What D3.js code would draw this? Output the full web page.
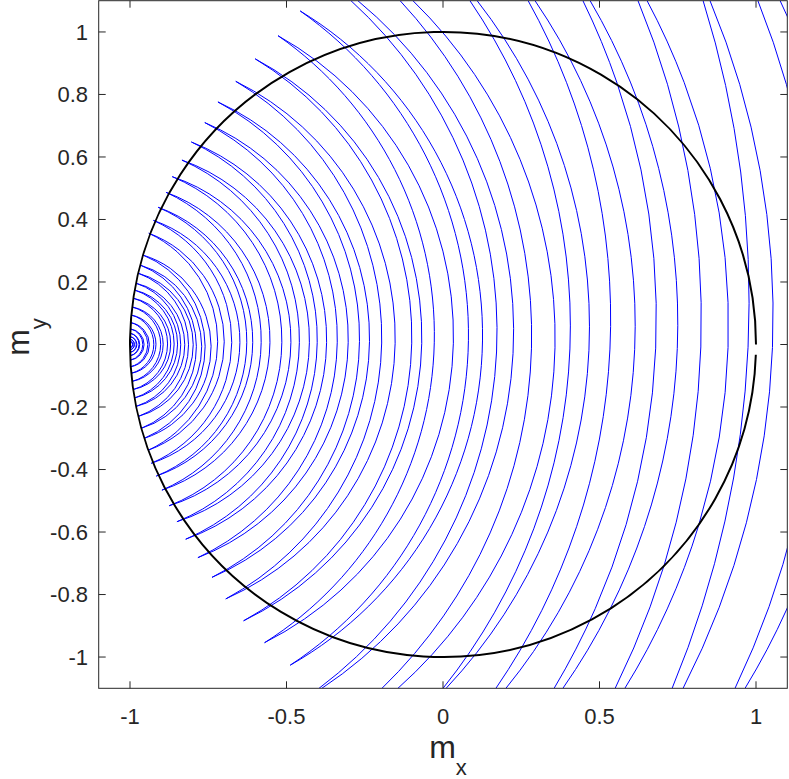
<!DOCTYPE html>
<html><head><meta charset="utf-8">
<script src="https://cdn.jsdelivr.net/npm/d3@7"></script>
<style>body{margin:0;background:#fff}svg{display:block}</style>
</head><body>
<svg id="c" width="789" height="779"></svg>
<script>
// ---------------- data ----------------
const xTicks = [-1, -0.5, 0, 0.5, 1];
const xTickLabels = ["-1", "-0.5", "0", "0.5", "1"];
const yTicks = [-1, -0.8, -0.6, -0.4, -0.2, 0, 0.2, 0.4, 0.6, 0.8, 1];
const yTickLabels = ["-1", "-0.8", "-0.6", "-0.4", "-0.2", "0", "0.2", "0.4", "0.6", "0.8", "1"];

// Each orbit is drawn as two close strands. Loops listed from the innermost outward.
// m_x where strand A / strand B crosses m_y = 0
const crossA = [
  -0.992, -0.987, -0.980, -0.971, -0.959, -0.943, -0.924, -0.902, -0.880, -0.859,
  -0.838, -0.813, -0.788, -0.760,
  -0.720, -0.675, -0.627, -0.581, -0.515, -0.459, -0.402, -0.338, -0.267, -0.196,
  -0.100, -0.028,  0.081,
   0.172,  0.283,  0.406,  0.534,  0.680,  0.824,  0.975,  1.200
];
const crossB = [
  -0.991, -0.986, -0.978, -0.969, -0.955, -0.938, -0.917, -0.894, -0.870, -0.848,
  -0.825, -0.798, -0.771, -0.741,
  -0.699, -0.649, -0.608, -0.553, -0.486, -0.427, -0.372, -0.303, -0.235, -0.153,
  -0.068,  0.033,  0.126,
   0.225,  0.358,  0.467,  0.613,  0.749,  0.911,  1.053,  1.300
];
// turning points on the unit circle for the innermost loops (m_y of upper / lower tip)
const ringTopY = [0.011, 0.017, 0.025, 0.036, 0.050, 0.070, 0.094, 0.120, 0.148, 0.174, 0.196, 0.228, 0.254, 0.286];
const ringBotY = [-0.011, -0.017, -0.025, -0.036, -0.050, -0.071, -0.092, -0.118, -0.144, -0.171, -0.198, -0.230, -0.268, -0.300];
// turning points of the next loops (they drift outside the unit circle)
const tipTopX = [-0.940, -0.925, -0.910, -0.885, -0.865, -0.834, -0.804, -0.761, -0.719, -0.662, -0.600, -0.527, -0.456];
const tipTopY = [ 0.356,  0.397,  0.439,  0.487,  0.537,  0.590,  0.648,  0.710,  0.776,  0.842,  0.914,  0.988,  1.067];
const tipBotX = [-0.941, -0.932, -0.916, -0.898, -0.875, -0.850, -0.822, -0.783, -0.738, -0.694, -0.637, -0.570, -0.488];
const tipBotY = [-0.338, -0.380, -0.421, -0.466, -0.516, -0.567, -0.623, -0.682, -0.745, -0.814, -0.884, -0.954, -1.026];
// outer loops: m_x where each strand leaves through the top (m_y = 1.1) and bottom (m_y = -1.1) edge
const exitTopA = [-0.294, -0.137, 0.086, 0.272, 0.447, 0.623, 0.831, 1.006];
const exitTopB = [-0.272, -0.096, 0.109, 0.294, 0.470, 0.652, 0.853, 1.077];
const exitBotA = [-0.396, -0.195, 0.000, 0.169, 0.355, 0.550, 0.732, 0.933];
const exitBotB = [-0.387, -0.144, 0.010, 0.201, 0.383, 0.581, 0.767, 0.965];
// unit circle is drawn with a small gap between these polar angles (rad)
const circleGap = [0, -0.033];

// ---------------- layout ----------------
const svg = d3.select("#c");
const x = d3.scaleLinear().domain([-1.1, 1.1]).range([98.7, 787.3]);
const y = d3.scaleLinear().domain([-1.1, 1.1]).range([688.3, 0.7]);
const axisColor = "#262626";
const font = "'Liberation Sans', Arial, Helvetica, sans-serif";
const x0 = x(-1.1), x1 = x(1.1), y0 = y(-1.1), y1 = y(1.1);

svg.append("defs").append("clipPath").attr("id", "plotclip")
  .append("rect").attr("x", x0).attr("y", y1).attr("width", x1 - x0).attr("height", y0 - y1);

// ---------------- assemble strands ----------------
const strands = [];
const nRing = ringTopY.length, nTip = tipTopX.length;
for (let i = 0; i < crossA.length; i++) {
  let topA, topB, botA, botB;
  if (i < nRing) {
    const t = [-Math.sqrt(1 - ringTopY[i] ** 2), ringTopY[i]];
    const b = [-Math.sqrt(1 - ringBotY[i] ** 2), ringBotY[i]];
    topA = topB = t; botA = botB = b;
  } else if (i < nRing + nTip) {
    const k = i - nRing;
    topA = topB = [tipTopX[k], tipTopY[k]];
    botA = botB = [tipBotX[k], tipBotY[k]];
  } else {
    const e = i - nRing - nTip;
    topA = [exitTopA[e], 1.1]; topB = [exitTopB[e], 1.1];
    botA = [exitBotA[e], -1.1]; botB = [exitBotB[e], -1.1];
  }
  strands.push({p0: topA, p1: [crossA[i], 0], p2: botA});
  strands.push({p0: topB, p1: [crossB[i], 0], p2: botB});
}

// arc of the circle through the three points (in pixel space)
function arcPath(p0, p1, p2) {
  const ax = x(p0[0]), ay = y(p0[1]), bx = x(p1[0]), by = y(p1[1]), cx = x(p2[0]), cy = y(p2[1]);
  const d = 2 * (ax * (by - cy) + bx * (cy - ay) + cx * (ay - by));
  const path = d3.path();
  if (Math.abs(d) < 1e-6) { path.moveTo(ax, ay); path.lineTo(bx, by); path.lineTo(cx, cy); return path.toString(); }
  const A = ax * ax + ay * ay, B = bx * bx + by * by, C = cx * cx + cy * cy;
  const ux = (A * (by - cy) + B * (cy - ay) + C * (ay - by)) / d;
  const uy = (A * (cx - bx) + B * (ax - cx) + C * (bx - ax)) / d;
  const r = Math.hypot(ax - ux, ay - uy);
  const a0 = Math.atan2(ay - uy, ax - ux), am = Math.atan2(by - uy, bx - ux), a1 = Math.atan2(cy - uy, cx - ux);
  const TAU = 2 * Math.PI, mod = v => ((v % TAU) + TAU) % TAU;
  const ccw = !(mod(am - a0) < mod(a1 - a0));
  path.moveTo(ax, ay);
  path.arc(ux, uy, r, a0, a1, ccw);
  return path.toString();
}

svg.append("g").attr("clip-path", "url(#plotclip)")
  .selectAll("path").data(strands).join("path")
  .attr("d", s => arcPath(s.p0, s.p1, s.p2))
  .attr("fill", "none").attr("stroke", "#0000ff").attr("stroke-width", 1);

// ---------------- unit circle ----------------
{
  const rx = x(1) - x(0), ry = y(0) - y(1);
  const sx = x(Math.cos(circleGap[0])), sy = y(Math.sin(circleGap[0]));
  const ex = x(Math.cos(circleGap[1])), ey = y(Math.sin(circleGap[1]));
  svg.append("path").attr("clip-path", "url(#plotclip)")
    .attr("d", `M${sx},${sy} A${rx},${ry} 0 1 0 ${ex},${ey}`)
    .attr("fill", "none").attr("stroke", "#000").attr("stroke-width", 2);
}

// ---------------- axes box and ticks ----------------
const tl = 7;
const gAx = svg.append("g").attr("stroke", axisColor).attr("stroke-width", 1).attr("fill", "none");
gAx.append("rect").attr("x", x0).attr("y", y1).attr("width", x1 - x0).attr("height", y0 - y1);
xTicks.forEach(t => {
  gAx.append("line").attr("x1", x(t)).attr("x2", x(t)).attr("y1", y0).attr("y2", y0 - tl);
  gAx.append("line").attr("x1", x(t)).attr("x2", x(t)).attr("y1", y1).attr("y2", y1 + tl);
});
yTicks.forEach(t => {
  gAx.append("line").attr("x1", x0).attr("x2", x0 + tl).attr("y1", y(t)).attr("y2", y(t));
  gAx.append("line").attr("x1", x1).attr("x2", x1 - tl).attr("y1", y(t)).attr("y2", y(t));
});
const tickFont = 22;
svg.append("g").selectAll("text").data(xTicks).join("text")
  .attr("x", d => x(d)).attr("y", 724).attr("text-anchor", "middle")
  .attr("font-family", font).attr("font-size", tickFont).attr("fill", axisColor)
  .text((d, i) => xTickLabels[i]);
svg.append("g").selectAll("text").data(yTicks).join("text")
  .attr("x", 88).attr("y", d => y(d)).attr("dy", "0.36em").attr("text-anchor", "end")
  .attr("font-family", font).attr("font-size", tickFont).attr("fill", axisColor)
  .text((d, i) => yTickLabels[i]);

// axis labels
const xl = svg.append("text").attr("x", 448).attr("y", 758).attr("text-anchor", "middle")
  .attr("font-family", font).attr("font-size", 32).attr("fill", axisColor);
xl.append("tspan").text("m");
xl.append("tspan").attr("font-size", 22).attr("dy", 17).text("x");
const yl = svg.append("text").attr("transform", "translate(29,337) rotate(-90)").attr("text-anchor", "middle")
  .attr("font-family", font).attr("font-size", 32).attr("fill", axisColor);
yl.append("tspan").text("m");
yl.append("tspan").attr("font-size", 22).attr("dy", 17).text("y");
</script>
</body></html>
